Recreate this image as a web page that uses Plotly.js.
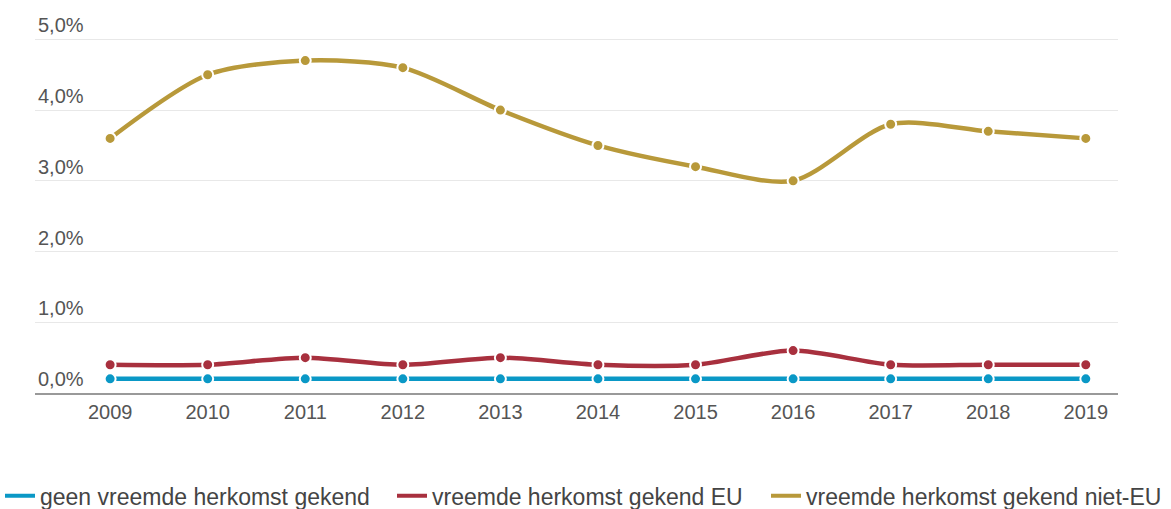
<!DOCTYPE html>
<html>
<head>
<meta charset="utf-8">
<script src="https://cdn.plot.ly/plotly-3.0.1.min.js"></script>
<style>html,body{margin:0;padding:0;background:#fff;}#chart{width:1171px;height:509px;}</style>
</head>
<body>
<div id="chart"></div>
<script>
const years = [2009, 2010, 2011, 2012, 2013, 2014, 2015, 2016, 2017, 2018, 2019];
const geenVreemd = [0.2, 0.2, 0.2, 0.2, 0.2, 0.2, 0.2, 0.2, 0.2, 0.2, 0.2];
const vreemdEU = [0.4, 0.4, 0.5, 0.4, 0.5, 0.4, 0.4, 0.6, 0.4, 0.4, 0.4];
const vreemdNietEU = [3.6, 4.5, 4.7, 4.6, 4.0, 3.5, 3.2, 3.0, 3.8, 3.7, 3.6];
const seriesNames = ["geen vreemde herkomst gekend", "vreemde herkomst gekend EU", "vreemde herkomst gekend niet-EU"];
const colors = ["#0a98c6", "#a8303e", "#b8993a"];
const yTicks = [0, 1, 2, 3, 4, 5];
const yTickLabels = ["0,0%", "1,0%", "2,0%", "3,0%", "4,0%", "5,0%"];

const seriesData = [geenVreemd, vreemdEU, vreemdNietEU];
const legendIds = ["legend", "legend2", "legend3"];
const legendX = [0, 392, 766];
const traces = [];
seriesData.forEach((vals, i) => {
  traces.push({
    x: years, y: vals, type: "scatter", mode: "lines+markers",
    name: seriesNames[i], showlegend: false,
    line: {color: colors[i], width: 4.5, shape: "spline", smoothing: 0.8},
    marker: {color: colors[i], size: 11, line: {color: "#fff", width: 2}},
    hoverinfo: "x+y"
  });
});
seriesData.forEach((vals, i) => {
  traces.push({
    x: [null], y: [null], type: "scatter", mode: "lines",
    name: seriesNames[i], showlegend: true, legend: legendIds[i],
    line: {color: colors[i], width: 4}
  });
});

const layout = {
  width: 1171, height: 509,
  margin: {l: 35, r: 53, t: 4, b: 116},
  paper_bgcolor: "#fff", plot_bgcolor: "#fff",
  font: {family: "Liberation Sans, Arial, sans-serif", color: "#555", size: 20},
  xaxis: {
    range: [2008.23, 2019.33],
    tickvals: years, ticktext: years.map(String),
    showgrid: false, zeroline: false,
    showline: true, linecolor: "#999", linewidth: 2,
    ticks: "", ticklen: 0,
    tickfont: {size: 20, color: "#555"},
    fixedrange: true
  },
  yaxis: {
    range: [0, 5.5],
    tickvals: yTicks, ticktext: yTickLabels,
    ticklabelposition: "inside top",
    showgrid: true, gridcolor: "#e8e8e8", gridwidth: 1,
    zeroline: false, showline: false,
    tickfont: {size: 20, color: "#555"},
    fixedrange: true
  },
  showlegend: true
};
legendIds.forEach((id, i) => {
  layout[id] = {
    orientation: "h", xref: "container", x: legendX[i] / 1171, xanchor: "left",
    yref: "container", y: 0.068, yanchor: "top",
    font: {size: 23, color: "#444"},
    itemwidth: 30, bgcolor: "rgba(0,0,0,0)"
  };
});

Plotly.newPlot("chart", traces, layout, {displayModeBar: false, staticPlot: true});
</script>
</body>
</html>
